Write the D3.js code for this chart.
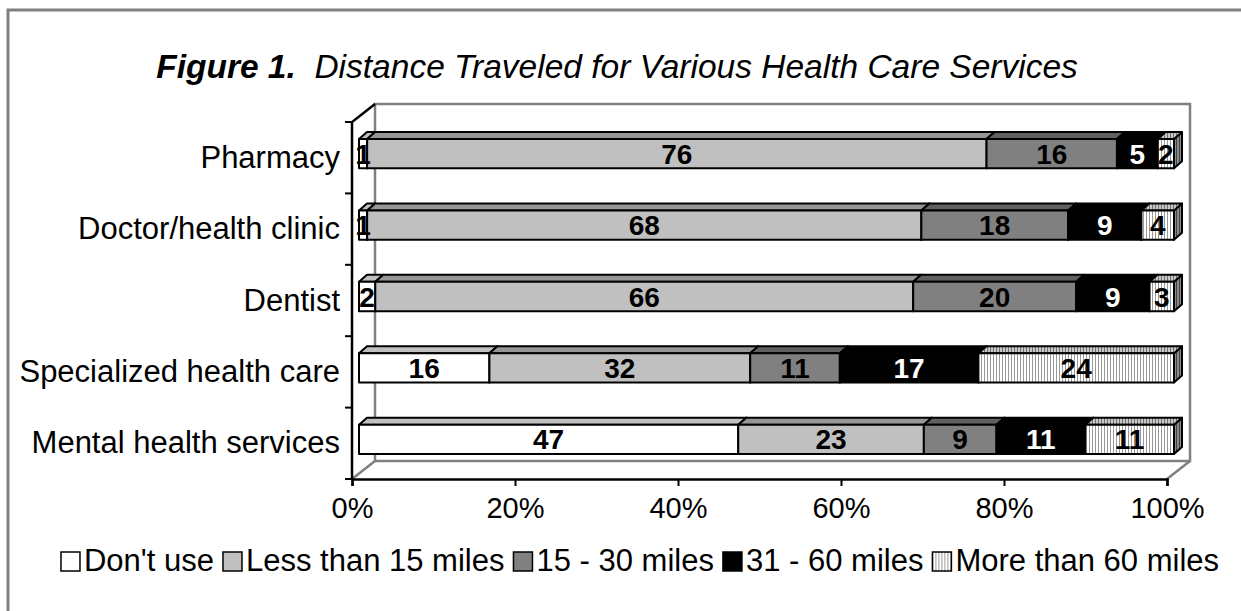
<!DOCTYPE html>
<html>
<head>
<meta charset="utf-8">
<script src="https://cdn.jsdelivr.net/npm/d3@7"></script>
<style>
  body { margin: 0; background: #fff; }
  svg { display: block; font-family: Arial, "Liberation Sans", sans-serif; }
</style>
</head>
<body>
<div id="chart"></div>
<script>
// data (percent of respondents)
const categories = ["Pharmacy", "Doctor/health clinic", "Dentist", "Specialized health care", "Mental health services"];
const seriesNames = ["Don't use", "Less than 15 miles", "15 - 30 miles", "31 - 60 miles", "More than 60 miles"];
const dontUse = [1, 1, 2, 16, 47];
const lessThan15 = [76, 68, 66, 32, 23];
const miles15to30 = [16, 18, 20, 11, 9];
const miles31to60 = [5, 9, 9, 17, 11];
const moreThan60 = [2, 4, 3, 24, 11];
const tickValues = [0, 0.2, 0.4, 0.6, 0.8, 1];
const tickLabels = ["0%", "20%", "40%", "60%", "80%", "100%"];

const seriesValues = [dontUse, lessThan15, miles15to30, miles31to60, moreThan60];

const width = 1241, height = 611;

const svg = d3.select("#chart").append("svg")
  .attr("width", width)
  .attr("height", height);

const defs = svg.append("defs");
function stripes(id, bg, line) {
  const p = defs.append("pattern")
    .attr("id", id)
    .attr("patternUnits", "userSpaceOnUse")
    .attr("width", 3).attr("height", 3);
  p.append("rect").attr("width", 3).attr("height", 3).attr("fill", bg);
  p.append("rect").attr("width", 1).attr("height", 3).attr("fill", line);
}
stripes("stripeFront", "#ffffff", "#999999");
stripes("stripeTop", "#c8c8c8", "#707070");
stripes("stripeSide", "#8a8a8a", "#404040");

const frontFill = ["#ffffff", "#c0c0c0", "#808080", "#000000", "url(#stripeFront)"];
const topFill = ["#c0c0c0", "#969696", "#606060", "#000000", "url(#stripeTop)"];
const sideFill = ["#a0a0a0", "#7a7a7a", "#505050", "#000000", "url(#stripeSide)"];
const labelFill = ["#000", "#000", "#000", "#fff", "#000"];

// outer frame
svg.append("rect")
  .attr("x", 8).attr("y", 10)
  .attr("width", width + 50).attr("height", height + 50)
  .attr("fill", "none")
  .attr("stroke", "#808080")
  .attr("stroke-width", 3);

// title
const title = svg.append("text")
  .attr("x", 617).attr("y", 78)
  .attr("text-anchor", "middle")
  .attr("font-size", 33.5)
  .attr("font-style", "italic");
title.append("tspan").attr("font-weight", "bold").text("Figure 1.");
title.append("tspan").attr("xml:space", "preserve").text("  Distance Traveled for Various Health Care Services");

// plot geometry (front plane + depth)
const x = d3.scaleLinear().domain([0, 1]).range([352, 1167]);
const y = d3.scaleBand().domain(categories).range([122, 479]).paddingInner(0.59).paddingOuter(0.295);
const depth = { dx: 23, dy: -18 };
const barOff = { dx: 7, dy: -4 };
const barDepth = { dx: 8, dy: -7 };

const walls = svg.append("g").attr("fill", "none");
// back wall
walls.append("rect")
  .attr("x", x(0) + depth.dx).attr("y", 122 + depth.dy)
  .attr("width", x(1) - x(0)).attr("height", 479 - 122)
  .attr("stroke", "#808080").attr("stroke-width", 2.5);
// floor edges
walls.append("path")
  .attr("d", `M${x(0)},479L${x(0) + depth.dx},${479 + depth.dy}M${x(1)},479L${x(1) + depth.dx},${479 + depth.dy}`)
  .attr("stroke", "#808080").attr("stroke-width", 2.5);
// left wall
walls.append("path")
  .attr("d", `M${x(0)},479L${x(0)},122L${x(0) + depth.dx},${122 + depth.dy}`)
  .attr("stroke", "#000").attr("stroke-width", 2.5);

// category axis ticks (band boundaries)
const step = y.step();
walls.selectAll(".ytick")
  .data(d3.range(categories.length + 1))
  .join("line")
  .attr("x1", x(0) - 7).attr("x2", x(0))
  .attr("y1", i => 122 + i * step).attr("y2", i => 122 + i * step)
  .attr("stroke", "#000").attr("stroke-width", 2);

// percent axis
const xAxis = svg.append("g").attr("transform", "translate(0,479)")
  .call(d3.axisBottom(x).tickValues(tickValues).tickFormat((d, i) => tickLabels[i]).tickSize(7).tickPadding(11));
xAxis.select(".domain").attr("stroke", "#000").attr("stroke-width", 2.5);
xAxis.selectAll(".tick line").attr("stroke", "#000").attr("stroke-width", 2);
xAxis.selectAll(".tick text")
  .attr("font-size", 29)
  .attr("font-family", "Arial, 'Liberation Sans', sans-serif")
  .attr("fill", "#000");

// category labels
svg.append("g").selectAll("text")
  .data(categories)
  .join("text")
  .attr("x", 340)
  .attr("y", d => y(d) + y.bandwidth() / 2 - 1)
  .attr("dy", "0.36em")
  .attr("text-anchor", "end")
  .attr("font-size", 31)
  .text(d => d);

// stacked 3D bars
const rows = categories.map((c, i) => {
  const r = { cat: c };
  seriesNames.forEach((s, k) => { r[s] = seriesValues[k][i]; });
  return r;
});
const stacked = d3.stack().keys(seriesNames).offset(d3.stackOffsetExpand)(rows);

const bars = svg.append("g")
  .attr("stroke", "#000")
  .attr("stroke-width", 2)
  .attr("stroke-linejoin", "round");

stacked.forEach((layer, k) => {
  const g = bars.append("g");
  layer.forEach(d => {
    const xl = x(d[0]) + barOff.dx, xr = x(d[1]) + barOff.dx;
    const yt = y(d.data.cat) + barOff.dy, yb = yt + y.bandwidth();
    g.append("path")
      .attr("d", `M${xr},${yt}L${xr + barDepth.dx},${yt + barDepth.dy}L${xr + barDepth.dx},${yb + barDepth.dy}L${xr},${yb}Z`)
      .attr("fill", sideFill[k]);
    g.append("path")
      .attr("d", `M${xl},${yt}L${xr},${yt}L${xr + barDepth.dx},${yt + barDepth.dy}L${xl + barDepth.dx},${yt + barDepth.dy}Z`)
      .attr("fill", topFill[k]);
    g.append("rect")
      .attr("x", xl).attr("y", yt)
      .attr("width", xr - xl).attr("height", yb - yt)
      .attr("fill", frontFill[k]);
  });
});

// value labels
stacked.forEach((layer, k) => {
  svg.append("g").selectAll("text")
    .data(layer)
    .join("text")
    .attr("x", d => (x(d[0]) + x(d[1])) / 2 + barOff.dx)
    .attr("y", d => y(d.data.cat) + barOff.dy + y.bandwidth() / 2)
    .attr("dy", "0.36em")
    .attr("text-anchor", "middle")
    .attr("font-size", 28)
    .attr("font-weight", "bold")
    .attr("fill", labelFill[k])
    .text(d => d.data[seriesNames[k]]);
});

// legend
const legend = svg.append("g").attr("font-size", 31);
let cursor = 0;
seriesNames.forEach((s, k) => {
  const item = legend.append("g");
  item.append("rect")
    .attr("x", 0).attr("y", -19)
    .attr("width", 19).attr("height", 19)
    .attr("fill", frontFill[k])
    .attr("stroke", "#000").attr("stroke-width", 1.5);
  const t = item.append("text").attr("x", 23).attr("y", 0).text(s);
  const w = 23 + t.node().getComputedTextLength();
  item.attr("transform", `translate(${cursor},571)`);
  cursor += w + 9;
});
const legendWidth = cursor - 9;
legend.attr("transform", `translate(${640 - legendWidth / 2},0)`);
</script>
</body>
</html>
